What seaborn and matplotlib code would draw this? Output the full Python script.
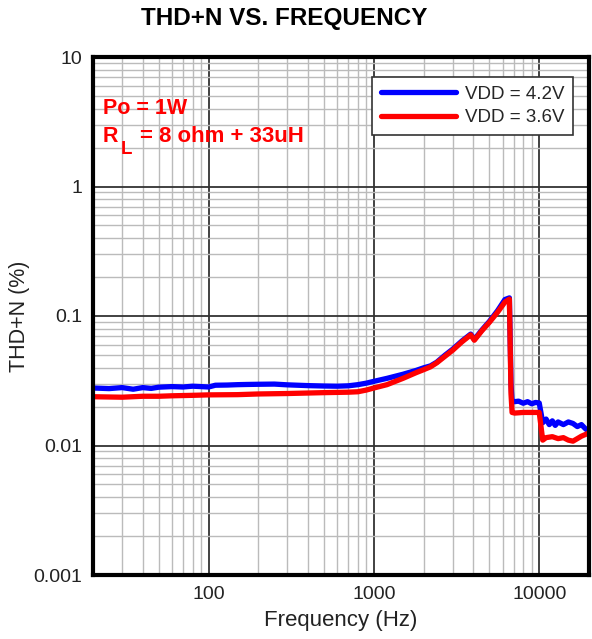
import matplotlib
matplotlib.use("Agg")
import matplotlib.pyplot as plt
import matplotlib.ticker as mticker
import seaborn as sns
import pandas as pd
import numpy as np

# ---- data ----
freq_42 = [20, 25, 30, 35, 40, 45, 50, 60, 70, 80, 90, 100, 110, 130, 150, 170, 200, 250, 300,
           400, 500, 600, 700, 800, 900, 1000, 1200, 1500, 1800, 2000, 2200, 2400, 2700, 3000,
           3400, 3850, 4050, 4500, 5000, 5600, 6200, 6600, 6750, 6850, 7100, 7500, 8000, 8500,
           9000, 9500, 10000, 10500, 11000, 11500, 12000, 12500, 13000, 14000, 15000, 16000,
           17000, 18000, 19000, 20000]
thd_42 = [0.0278, 0.0275, 0.0280, 0.0272, 0.0280, 0.0276, 0.0282, 0.0285, 0.0283, 0.0287, 0.0285,
          0.0283, 0.0292, 0.0293, 0.0295, 0.0296, 0.0297, 0.0298, 0.0294, 0.0290, 0.0288, 0.0287,
          0.0289, 0.0295, 0.0303, 0.0313, 0.0330, 0.0355, 0.0380, 0.0398, 0.0412, 0.0440, 0.0500,
          0.0555, 0.0640, 0.0725, 0.0660, 0.0780, 0.0910, 0.110, 0.134, 0.138, 0.030, 0.0220,
          0.0218, 0.0220, 0.0212, 0.0218, 0.0210, 0.0215, 0.0213, 0.0150, 0.0160, 0.0145, 0.0155,
          0.0143, 0.0152, 0.0145, 0.0152, 0.0148, 0.0140, 0.0145, 0.0135, 0.0128]

freq_36 = [20, 30, 40, 50, 60, 80, 100, 150, 200, 300, 500, 700, 800, 900, 1000, 1200, 1500,
           1800, 2000, 2200, 2400, 2700, 3000, 3400, 3850, 4050, 4500, 5000, 5600, 6200, 6600,
           6750, 6850, 7100, 8000, 9000, 10000, 10500, 11000, 12000, 13000, 14000, 15000, 16000,
           17000, 18000, 20000]
thd_36 = [0.0238, 0.0236, 0.0240, 0.0240, 0.0242, 0.0244, 0.0246, 0.0247, 0.0250, 0.0252, 0.0256,
          0.0258, 0.0260, 0.0268, 0.0278, 0.0295, 0.0330, 0.0365, 0.0385, 0.0405, 0.0435, 0.0490,
          0.0545, 0.0630, 0.0715, 0.0650, 0.0770, 0.0895, 0.107, 0.128, 0.135, 0.025, 0.0180,
          0.0178, 0.0180, 0.0180, 0.0180, 0.0110, 0.0115, 0.0117, 0.0113, 0.0115, 0.0110, 0.0108,
          0.0113, 0.0118, 0.0125]

series_names = ["VDD = 4.2V", "VDD = 3.6V"]
series_colors = ["#0000FF", "#FF0000"]
y_ticks = [0.001, 0.01, 0.1, 1, 10]
y_tick_labels = ["0.001", "0.01", "0.1", "1", "10"]
x_ticks = [100, 1000, 10000]
x_tick_labels = ["100", "1000", "10000"]

df = pd.concat([
    pd.DataFrame({"freq": freq_42, "thd": thd_42, "series": series_names[0]}),
    pd.DataFrame({"freq": freq_36, "thd": thd_36, "series": series_names[1]}),
], ignore_index=True)

sns.set_style("white")
plt.rcParams["font.family"] = ["Liberation Sans", "DejaVu Sans"]

fig = plt.figure(figsize=(5.92, 6.39), dpi=100)
ax = fig.add_axes([93 / 592, 1 - 575 / 639, (589 - 93) / 592, (575 - 57) / 639])

sns.lineplot(data=df, x="freq", y="thd", hue="series", hue_order=series_names,
             palette=series_colors, sort=False, estimator=None, linewidth=3.8, ax=ax)

ax.set_xscale("log")
ax.set_yscale("log")
ax.set_xlim(20, 20000)
ax.set_ylim(0.001, 10)

ax.set_yticks(y_ticks)
ax.set_yticklabels(y_tick_labels)
ax.set_xticks(x_ticks)
ax.set_xticklabels(x_tick_labels)
ax.yaxis.set_minor_locator(mticker.LogLocator(base=10, subs=np.arange(2, 10)))
ax.xaxis.set_minor_locator(mticker.LogLocator(base=10, subs=np.arange(2, 10)))
ax.yaxis.set_minor_formatter(mticker.NullFormatter())
ax.xaxis.set_minor_formatter(mticker.NullFormatter())

ax.grid(True, which="major", color="#333333", linewidth=1.3)
ax.grid(True, which="minor", color="#BBBBBB", linewidth=1.0)
ax.set_axisbelow(True)

ax.tick_params(axis="both", which="major", direction="in", length=5, width=1.5,
               labelsize=14, colors="black", pad=8)
ax.tick_params(axis="both", which="minor", direction="in", length=3, width=1.0)
ax.tick_params(axis="both", labelcolor="#222222")

for sp in ax.spines.values():
    sp.set_visible(True)
    sp.set_color("black")
    sp.set_linewidth(3)

ax.set_xlabel("Frequency (Hz)", fontsize=16, color="#222222", labelpad=5)
ax.set_ylabel("THD+N (%)", fontsize=15.5, color="#222222", labelpad=2)

fig.text(284 / 592, 1 - 18 / 639, "THD+N VS. FREQUENCY", ha="center", va="center",
         fontsize=17.5, fontweight="bold", color="black")

red = "#FF0000"
ax.text(0.02, 0.9015, "Po = 1W", transform=ax.transAxes, color=red,
        fontsize=15.5, fontweight="bold", ha="left", va="center")
ax.text(0.02, 0.8456, "R", transform=ax.transAxes, color=red,
        fontsize=15.5, fontweight="bold", ha="left", va="center")
ax.text(0.0565, 0.821, "L", transform=ax.transAxes, color=red,
        fontsize=13.5, fontweight="bold", ha="left", va="center")
ax.text(0.0948, 0.8456, "= 8 ohm + 33uH", transform=ax.transAxes, color=red,
        fontsize=16, fontweight="bold", ha="left", va="center")

leg = ax.legend(title=None, loc="upper right", bbox_to_anchor=(0.968, 0.961),
                fontsize=13.5, frameon=True, fancybox=False, handlelength=4.0,
                borderpad=0.45, labelspacing=0.35, handletextpad=0.5, borderaxespad=0)
leg.get_frame().set_edgecolor("#333333")
leg.get_frame().set_linewidth(1.2)
leg.get_frame().set_alpha(1)
for line in leg.get_lines():
    line.set_linewidth(3.8)

fig.savefig("out.png", dpi=100)
